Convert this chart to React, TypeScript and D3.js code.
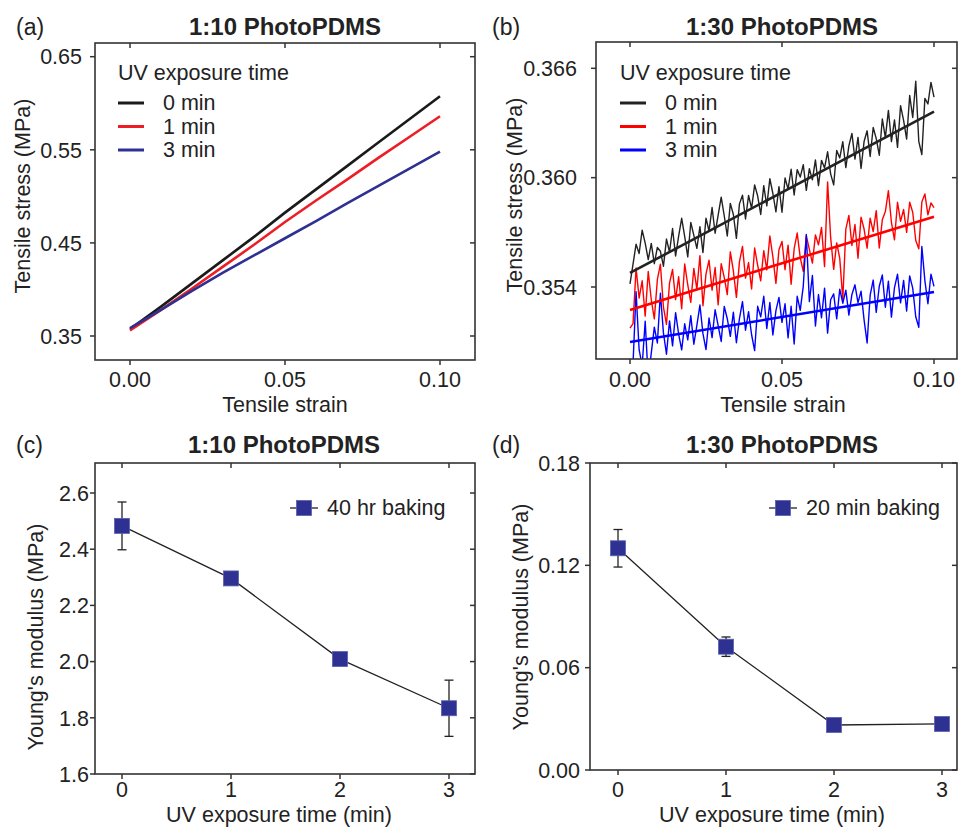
import React from "react";
import * as d3 from "d3";

const FONT = "'Liberation Sans', Arial, Helvetica, sans-serif";

// ---- (a) 1:10 PhotoPDMS, stress vs strain ----
const strainA = [0, 0.01, 0.02, 0.03, 0.04, 0.05, 0.06, 0.07, 0.08, 0.09, 0.1];
const stressA0 = [0.3575, 0.3815, 0.4065, 0.4315, 0.4565, 0.4825, 0.5075, 0.5325, 0.5575, 0.5825, 0.6075];
const stressA1 = [0.356, 0.378, 0.401, 0.4245, 0.448, 0.4725, 0.4955, 0.518, 0.541, 0.5635, 0.586];
const stressA3 = [0.3585, 0.378, 0.3985, 0.418, 0.4365, 0.455, 0.4735, 0.4925, 0.511, 0.5295, 0.548];
const ticksAx = [0, 0.05, 0.1];
const ticksAy = [0.35, 0.45, 0.55, 0.65];

// ---- (b) 1:30 PhotoPDMS, stress vs strain (raw + linear fit) ----
const strainB = [
  0, 0.001, 0.002, 0.003, 0.004, 0.005, 0.006, 0.007, 0.008, 0.009,
  0.01, 0.011, 0.012, 0.013, 0.014, 0.015, 0.016, 0.017, 0.018, 0.019,
  0.02, 0.021, 0.022, 0.023, 0.024, 0.025, 0.026, 0.027, 0.028, 0.029,
  0.03, 0.031, 0.032, 0.033, 0.034, 0.035, 0.036, 0.037, 0.038, 0.039,
  0.04, 0.041, 0.042, 0.043, 0.044, 0.045, 0.046, 0.047, 0.048, 0.049,
  0.05, 0.051, 0.052, 0.053, 0.054, 0.055, 0.056, 0.057, 0.058, 0.059,
  0.06, 0.061, 0.062, 0.063, 0.064, 0.065, 0.066, 0.067, 0.068, 0.069,
  0.07, 0.071, 0.072, 0.073, 0.074, 0.075, 0.076, 0.077, 0.078, 0.079,
  0.08, 0.081, 0.082, 0.083, 0.084, 0.085, 0.086, 0.087, 0.088, 0.089,
  0.09, 0.091, 0.092, 0.093, 0.094, 0.095, 0.096, 0.097, 0.098, 0.099, 0.1,
];
const stressB0 = [
  0.35417, 0.35526, 0.35635, 0.35584, 0.35712, 0.35641, 0.3555, 0.35639, 0.35528, 0.35617,
  0.35596, 0.35514, 0.35663, 0.35592, 0.35721, 0.3557, 0.35679, 0.35777, 0.35676, 0.35565,
  0.35754, 0.35683, 0.35612, 0.35731, 0.35589, 0.35778, 0.35707, 0.35836, 0.35695, 0.35794,
  0.35893, 0.35791, 0.3568, 0.35859, 0.35798, 0.35667, 0.35856, 0.35904, 0.35773, 0.35902,
  0.35831, 0.3596, 0.35899, 0.35798, 0.35956, 0.35845, 0.35994, 0.35913, 0.35812, 0.35951,
  0.3581, 0.35998, 0.35937, 0.36046, 0.35905, 0.36044, 0.36003, 0.36071, 0.3593, 0.36049,
  0.35988, 0.36097, 0.35956, 0.36095, 0.36053, 0.36142, 0.36021, 0.3596, 0.36149, 0.36108,
  0.36197, 0.36055, 0.36174, 0.36243, 0.36102, 0.36221, 0.3605, 0.36198, 0.36257, 0.36116,
  0.36275, 0.36214, 0.36123, 0.36322, 0.3622, 0.36369, 0.36198, 0.36317, 0.36166, 0.36395,
  0.36314, 0.36212, 0.36451, 0.3633, 0.36529, 0.36198, 0.36127, 0.36435, 0.36404, 0.36523, 0.36442,
];
const stressB1 = [
  0.35174, 0.35199, 0.35504, 0.35339, 0.35434, 0.3524, 0.35485, 0.3533, 0.35225, 0.3544,
  0.35525, 0.3529, 0.35195, 0.35421, 0.35496, 0.35331, 0.35456, 0.35281, 0.35526, 0.35411,
  0.35316, 0.35502, 0.35387, 0.35572, 0.35297, 0.35472, 0.35547, 0.35382, 0.35507, 0.35302,
  0.35528, 0.35453, 0.35358, 0.35593, 0.35488, 0.35343, 0.35538, 0.35623, 0.35449, 0.35534,
  0.35389, 0.35614, 0.35519, 0.35434, 0.35599, 0.35494, 0.3568, 0.35565, 0.3542, 0.35605,
  0.3565, 0.35495, 0.3563, 0.35415, 0.3561, 0.35696, 0.35561, 0.35486, 0.35681, 0.35606,
  0.35531, 0.35686, 0.35631, 0.35727, 0.35512, 0.35977, 0.35672, 0.35497, 0.35642, 0.35557,
  0.35332, 0.35718, 0.35793, 0.35628, 0.35743, 0.35558, 0.35783, 0.35718, 0.35613, 0.35778,
  0.35704, 0.35819, 0.35614, 0.35769, 0.35814, 0.35929, 0.35754, 0.35659, 0.35865, 0.3576,
  0.35825, 0.357, 0.35865, 0.3581, 0.35655, 0.3561, 0.35866, 0.35911, 0.35796, 0.35861, 0.35836,
];
const stressB3 = [
  0.34918, 0.34981, 0.35374, 0.35056, 0.34969, 0.35212, 0.34895, 0.35037, 0.3518, 0.35093,
  0.35366, 0.35148, 0.35031, 0.35214, 0.35077, 0.35259, 0.35142, 0.35055, 0.35198, 0.3511,
  0.35243, 0.35086, 0.35189, 0.35301, 0.35144, 0.35057, 0.3523, 0.35122, 0.35275, 0.35188,
  0.35101, 0.35293, 0.35226, 0.35129, 0.35262, 0.35094, 0.35227, 0.3532, 0.35163, 0.35265,
  0.35138, 0.35051, 0.35294, 0.35236, 0.35349, 0.35172, 0.35315, 0.35137, 0.3527, 0.35343,
  0.35206, 0.35308, 0.35121, 0.35294, 0.35087, 0.35349, 0.35272, 0.35405, 0.35688, 0.3532,
  0.35463, 0.35186, 0.35359, 0.35231, 0.35394, 0.35147, 0.3533, 0.35362, 0.35225, 0.35388,
  0.35311, 0.35383, 0.35246, 0.35359, 0.35412, 0.35314, 0.35377, 0.3522, 0.35093, 0.35355,
  0.35438, 0.35261, 0.35404, 0.35466, 0.35289, 0.35432, 0.35235, 0.35397, 0.3547, 0.35313,
  0.35436, 0.35268, 0.35461, 0.35394, 0.35237, 0.35179, 0.35622, 0.35435, 0.35308, 0.3547, 0.35403,
];
const fitStrainB = [0, 0.1];
const fitB0 = [0.35477, 0.36362];
const fitB1 = [0.35274, 0.35786];
const fitB3 = [0.35098, 0.35373];
const ticksBx = [0, 0.05, 0.1];
const ticksBy = [0.354, 0.36, 0.366];

// ---- (c), (d) Young's modulus vs UV exposure ----
const uvTime = [0, 1, 2, 3];
const modulus10 = [2.483, 2.296, 2.009, 1.834];
const modulus10Err = [0.085, 0.01, 0.01, 0.1];
const modulus30 = [0.13, 0.0723, 0.0264, 0.027];
const modulus30Err = [0.011, 0.0057, 0.001, 0.0025];
const ticksCy = [1.6, 1.8, 2.0, 2.2, 2.4, 2.6];
const ticksDy = [0.0, 0.06, 0.12, 0.18];

const legendTimes = ["0 min", "1 min", "3 min"];

type Box = { l: number; r: number; t: number; b: number };

function Frame({ box, x, y, xTicks, yTicks, xFmt, yFmt, yLabGap, xLabDy }: any) {
  const tl = 5;
  return (
    <g fontFamily={FONT} fill="#222">
      <rect x={box.l} y={box.t} width={box.r - box.l} height={box.b - box.t} fill="none" stroke="#333" strokeWidth={1.6} />
      {xTicks.map((t: number, i: number) => (
        <g key={"x" + i} stroke="#333" strokeWidth={1.5}>
          <line x1={x(t)} x2={x(t)} y1={box.b} y2={box.b + tl} />
          <line x1={x(t)} x2={x(t)} y1={box.t} y2={box.t + tl} />
        </g>
      ))}
      {yTicks.map((t: number, i: number) => (
        <g key={"y" + i} stroke="#333" strokeWidth={1.5}>
          <line x1={box.l - tl} x2={box.l} y1={y(t)} y2={y(t)} />
          <line x1={box.r - tl} x2={box.r} y1={y(t)} y2={y(t)} />
        </g>
      ))}
      {xTicks.map((t: number, i: number) => (
        <text key={"xl" + i} x={x(t)} y={box.b + xLabDy} textAnchor="middle" fontSize={21.5} fill="#222">
          {xFmt(t)}
        </text>
      ))}
      {yTicks.map((t: number, i: number) => (
        <text key={"yl" + i} x={box.l - yLabGap} y={y(t)} dy="0.36em" textAnchor="end" fontSize={21.5} fill="#222">
          {yFmt(t)}
        </text>
      ))}
    </g>
  );
}

function Labels({ tag, tagX, title, titleX, baseY, xTitle, xTitleX, xTitleY, yTitle, yTitleX, yTitleY }: any) {
  return (
    <g fontFamily={FONT} fill="#222">
      <text x={tagX} y={baseY} fontSize={23}>{tag}</text>
      <text x={titleX} y={baseY} fontSize={24} fontWeight="bold" textAnchor="middle">{title}</text>
      <text x={xTitleX} y={xTitleY} fontSize={21.5} textAnchor="middle">{xTitle}</text>
      <text transform={`translate(${yTitleX},${yTitleY}) rotate(-90)`} fontSize={21.5} textAnchor="middle" dominantBaseline="central">
        {yTitle}
      </text>
    </g>
  );
}

function StressLegend({ x0, colors }: { x0: number; colors: string[] }) {
  return (
    <g fontFamily={FONT} fill="#222" fontSize={21.5}>
      <text x={x0} y={80}>UV exposure time</text>
      {legendTimes.map((t, i) => (
        <g key={t}>
          <line x1={x0} x2={x0 + 26} y1={103 + i * 23.5} y2={103 + i * 23.5} stroke={colors[i]} strokeWidth={3} />
          <text x={x0 + 45} y={110 + i * 23.5}>{t}</text>
        </g>
      ))}
    </g>
  );
}

function ModulusPanel({ box, x, y, vals, errs, legendX, label }: any) {
  const line = d3.line<number>().x((_, i) => x(uvTime[i])).y((d) => y(d));
  const ms = 15;
  const navy = "#2e3192";
  return (
    <g>
      <path d={line(vals) || ""} fill="none" stroke="#222" strokeWidth={1.3} />
      {vals.map((v: number, i: number) => (
        <g key={i} stroke="#222" strokeWidth={1.3}>
          <line x1={x(uvTime[i])} x2={x(uvTime[i])} y1={y(v - errs[i])} y2={y(v + errs[i])} />
          <line x1={x(uvTime[i]) - 4.5} x2={x(uvTime[i]) + 4.5} y1={y(v + errs[i])} y2={y(v + errs[i])} />
          <line x1={x(uvTime[i]) - 4.5} x2={x(uvTime[i]) + 4.5} y1={y(v - errs[i])} y2={y(v - errs[i])} />
        </g>
      ))}
      {vals.map((v: number, i: number) => (
        <rect key={"m" + i} x={x(uvTime[i]) - ms / 2} y={y(v) - ms / 2} width={ms} height={ms} fill={navy} stroke="#5a5fb0" strokeWidth={0.8} />
      ))}
      <g>
        <line x1={legendX - 14} x2={legendX + 14} y1={box.t + 45} y2={box.t + 45} stroke="#222" strokeWidth={1.3} />
        <rect x={legendX - ms / 2} y={box.t + 45 - ms / 2} width={ms} height={ms} fill={navy} stroke="#5a5fb0" strokeWidth={0.8} />
        <text x={legendX + 23} y={box.t + 52} fontFamily={FONT} fontSize={21.5} fill="#222">{label}</text>
      </g>
    </g>
  );
}

export default function App() {
  // panel boxes
  const boxA: Box = { l: 95, r: 475, t: 43, b: 360 };
  const boxB: Box = { l: 596, r: 957, t: 42, b: 359 };
  const boxC: Box = { l: 95, r: 475, t: 463, b: 774 };
  const boxD: Box = { l: 590, r: 957, t: 463, b: 770 };

  const xA = d3.scaleLinear().domain([0, 0.1]).range([130, 440]);
  const yA = d3.scaleLinear().domain([0.35, 0.65]).range([336, 56.7]);
  const xB = d3.scaleLinear().domain([0, 0.1]).range([630, 934]);
  const yB = d3.scaleLinear().domain([0.354, 0.366]).range([287, 68.3]);
  const xC = d3.scaleLinear().domain([0, 3]).range([122, 449]);
  const yC = d3.scaleLinear().domain([1.6, 2.6]).range([774, 493]);
  const xD = d3.scaleLinear().domain([0, 3]).range([618, 942]);
  const yD = d3.scaleLinear().domain([0, 0.18]).range([770, 463]);

  const lineA = (ys: number[]) =>
    d3.line<number>().x((_, i) => xA(strainA[i])).y((d) => yA(d))(ys) || "";
  const lineB = (xs: number[], ys: number[]) =>
    d3.line<number>().x((_, i) => xB(xs[i])).y((d) => yB(d))(ys) || "";

  const colA = ["#1a1a1a", "#ee1d25", "#2e3192"];
  const colB = ["#222222", "#ff0000", "#0000ff"];

  return (
    <svg width={958} height={827} style={{ position: "absolute", left: 0, top: 0, background: "#fff" }}>
      <defs>
        <clipPath id="clipB">
          <rect x={boxB.l} y={boxB.t} width={boxB.r - boxB.l} height={boxB.b - boxB.t} />
        </clipPath>
      </defs>

      {/* (a) */}
      <Labels tag="(a)" tagX={16} title="1:10 PhotoPDMS" titleX={285} baseY={35}
        xTitle="Tensile strain" xTitleX={285} xTitleY={412}
        yTitle="Tensile stress (MPa)" yTitleX={23} yTitleY={196} />
      {[stressA0, stressA1, stressA3].map((s, i) => (
        <path key={i} d={lineA(s)} fill="none" stroke={colA[i]} strokeWidth={2.6} />
      ))}
      <StressLegend x0={118} colors={colA} />
      <Frame box={boxA} x={xA} y={yA} xTicks={ticksAx} yTicks={ticksAy}
        xFmt={d3.format(".2f")} yFmt={d3.format(".2f")} yLabGap={13} xLabDy={27} />

      {/* (b) */}
      <Labels tag="(b)" tagX={492} title="1:30 PhotoPDMS" titleX={782} baseY={35}
        xTitle="Tensile strain" xTitleX={783} xTitleY={412}
        yTitle="Tensile stress (MPa)" yTitleX={515} yTitleY={195} />
      <g clipPath="url(#clipB)">
        {[stressB0, stressB1, stressB3].map((s, i) => (
          <path key={i} d={lineB(strainB, s)} fill="none" stroke={colB[i]} strokeWidth={1.4} strokeLinejoin="round" />
        ))}
        {[fitB0, fitB1, fitB3].map((s, i) => (
          <path key={"f" + i} d={lineB(fitStrainB, s)} fill="none" stroke={colB[i]} strokeWidth={2.6} />
        ))}
      </g>
      <StressLegend x0={620} colors={colB} />
      <Frame box={boxB} x={xB} y={yB} xTicks={ticksBx} yTicks={ticksBy}
        xFmt={d3.format(".2f")} yFmt={d3.format(".3f")} yLabGap={19} xLabDy={28} />

      {/* (c) */}
      <Labels tag="(c)" tagX={16} title="1:10 PhotoPDMS" titleX={284} baseY={453}
        xTitle="UV exposure time (min)" xTitleX={279} xTitleY={822}
        yTitle="Young's modulus (MPa)" yTitleX={36} yTitleY={637} />
      <ModulusPanel box={boxC} x={xC} y={yC} vals={modulus10} errs={modulus10Err} legendX={304} label="40 hr baking" />
      <Frame box={boxC} x={xC} y={yC} xTicks={uvTime} yTicks={ticksCy}
        xFmt={d3.format("d")} yFmt={d3.format(".1f")} yLabGap={6} xLabDy={23} />

      {/* (d) */}
      <Labels tag="(d)" tagX={492} title="1:30 PhotoPDMS" titleX={782} baseY={453}
        xTitle="UV exposure time (min)" xTitleX={772} xTitleY={822}
        yTitle="Young's modulus (MPa)" yTitleX={521} yTitleY={617} />
      <ModulusPanel box={boxD} x={xD} y={yD} vals={modulus30} errs={modulus30Err} legendX={783} label="20 min baking" />
      <Frame box={boxD} x={xD} y={yD} xTicks={uvTime} yTicks={ticksDy}
        xFmt={d3.format("d")} yFmt={d3.format(".2f")} yLabGap={10} xLabDy={27} />
    </svg>
  );
}
